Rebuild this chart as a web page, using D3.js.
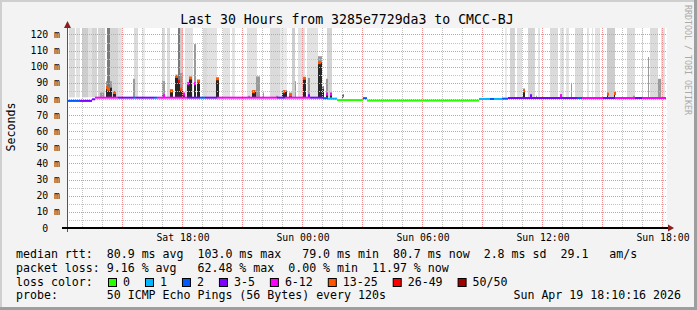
<!DOCTYPE html>
<html>
<head>
<meta charset="utf-8">
<script src="https://cdn.jsdelivr.net/npm/d3@7"></script>
<style>
  html, body { margin: 0; padding: 0; background: #f3f3f3; }
  svg { display: block; font-family: "DejaVu Sans Mono", monospace; }
  text { white-space: pre; }
</style>
</head>
<body>
<svg id="chart" width="697" height="310"></svg>
<script>
// smokeping: last 30 hours, 3285e7729da3 -> CMCC-BJ
// times are hours since Sat 18 Apr 2026 00:00

var lossLabels = ["0", "1", "2", "3-5", "6-12", "13-25", "26-49", "50/50"]
var lossColors = ["#26ff00", "#00b8ff", "#0059ff", "#7e00ff", "#ff00ff", "#ff5500", "#ff0000", "#a10000"]

var yTickValues = [0, 10, 20, 30, 40, 50, 60, 70, 80, 90, 100, 110, 120]

// median rtt runs: [from, to, ms, loss class]
var medianRuns = [
  [12.25, 12.30, 80.5, 4], [12.30, 12.90, 78.8, 2], [12.90, 13.50, 78.8, 3],
  [13.50, 13.65, 79.8, 3], [13.65, 14.80, 80.8, 4], [14.80, 15.55, 80.8, 3],
  [15.55, 15.70, 80.8, 2], [15.70, 16.60, 80.8, 3], [16.60, 16.75, 80.8, 2],
  [16.75, 18.25, 80.8, 4], [18.25, 18.90, 80.8, 3], [18.90, 19.15, 80.8, 2],
  [19.15, 19.75, 80.8, 3], [19.75, 22.75, 80.8, 4], [22.75, 23.15, 80.8, 3],
  [23.15, 24.40, 80.8, 4], [24.40, 25.05, 80.8, 3], [25.05, 25.30, 80.5, 2],
  [25.30, 25.75, 80.2, 1], [25.75, 27.05, 79.3, 0], [27.05, 27.25, 80.5, 2],
  [27.25, 32.85, 79.0, 0], [32.85, 33.40, 80.0, 1], [33.40, 33.60, 80.0, 2],
  [33.60, 34.00, 80.0, 1], [34.00, 34.30, 80.2, 2], [34.30, 37.75, 80.6, 3],
  [37.75, 38.00, 80.6, 2], [38.00, 39.05, 80.6, 4], [39.05, 39.65, 80.6, 3],
  [39.65, 40.65, 80.6, 4], [40.65, 41.00, 80.6, 3], [41.00, 42.20, 80.6, 4]
]

// smoke spikes: [from, to, max ms, median ms, loss class]
var spikes = [
  [13.90, 14.10, 84, 81, 4], [14.20, 14.50, 91, 87, 5], [14.25, 14.40, 124, 86, 5],
  [14.55, 14.70, 85, 84, 5], [15.55, 15.65, 92.5, 81, 3], [17.00, 17.15, 91, 82, 4],
  [17.40, 17.55, 86, 85, 5], [17.65, 17.80, 95, 94, 5], [17.80, 17.90, 124, 91, 6],
  [17.90, 18.05, 96, 86, 5], [18.05, 18.15, 84, 83, 4], [18.25, 18.35, 90, 89.5, 4],
  [18.35, 18.50, 93.5, 93, 5], [18.60, 18.70, 114, 89.5, 4], [18.75, 18.90, 92, 91, 5],
  [19.70, 19.85, 93, 92.5, 5], [21.30, 21.40, 82, 81, 3], [21.50, 21.70, 85.5, 84.5, 5],
  [21.70, 21.90, 94, 81, 4], [22.05, 22.10, 84, 81, 3], [22.70, 22.80, 82, 81, 4],
  [23.00, 23.25, 85.5, 84.5, 5], [23.35, 23.50, 84, 82.5, 5], [23.65, 23.70, 91, 81, 3],
  [24.05, 24.20, 93, 92.8, 5], [24.30, 24.40, 93, 82, 3], [24.80, 25.00, 106.5, 102.5, 5],
  [25.00, 25.10, 88, 87, 5], [25.20, 25.30, 92.5, 83, 4], [25.40, 25.50, 84, 83, 4],
  [26.00, 26.05, 83, 82, 4], [35.05, 35.15, 86.5, 85, 5], [35.40, 35.45, 82.5, 82, 3],
  [35.70, 35.75, 82, 81.5, 4], [36.90, 37.00, 83, 82, 4], [37.45, 37.50, 90, 81, 3],
  [39.25, 39.30, 84, 83, 5], [39.60, 39.65, 84, 83.4, 5], [40.55, 40.65, 82, 81.5, 4],
  [41.30, 41.35, 106, 81, 3], [41.80, 41.95, 92.5, 81, 3]
]

// light loss shading above the median: [from, to, density]
var lossBands = [
  [12.35, 12.65, 0.4], [12.70, 12.90, 0.3], [13.00, 13.30, 0.6], [13.30, 13.50, 0.3],
  [13.50, 13.75, 0.5], [13.80, 14.15, 0.5], [14.40, 14.80, 0.5], [14.80, 15.00, 0.3],
  [15.60, 15.80, 0.4], [16.00, 16.15, 0.2], [17.00, 17.15, 0.4], [17.25, 17.40, 0.4],
  [17.90, 18.05, 0.6], [18.15, 18.55, 0.3], [19.05, 19.25, 0.4], [19.25, 19.75, 0.3],
  [20.05, 20.40, 0.3], [20.50, 20.65, 0.3], [21.25, 21.75, 0.3], [22.40, 22.90, 0.4],
  [22.90, 23.25, 0.2], [23.50, 23.65, 0.6], [23.80, 24.15, 0.3], [24.25, 24.80, 0.3],
  [25.25, 25.50, 0.5], [34.15, 34.25, 0.2], [34.40, 34.65, 0.5], [34.75, 35.00, 0.3],
  [35.30, 35.65, 0.5], [35.80, 35.90, 0.3], [36.40, 36.80, 0.4], [36.90, 37.10, 0.3],
  [37.20, 37.35, 0.3], [37.65, 38.05, 0.4], [38.25, 38.35, 0.3], [38.50, 38.55, 0.3],
  [38.65, 38.90, 0.3], [39.25, 39.65, 0.6], [40.25, 40.65, 0.4], [41.00, 41.05, 0.3],
  [41.40, 41.80, 0.4], [41.95, 42.15, 0.3]
]

var rttLegend = ["median rtt:", "80.9 ms avg", "103.0 ms max", "79.0 ms min", "80.7 ms now", "2.8 ms sd", "29.1", "am/s"]
var lossLegend = ["packet loss:", "9.16 % avg", "62.48 % max", "0.00 % min", "11.97 % now"]
var probeText = "probe:       50 ICMP Echo Pings (56 Bytes) every 120s"
var stampText = "Sun Apr 19 18:10:16 2026"
var titleText = "Last 30 Hours from 3285e7729da3 to CMCC-BJ"

;(function() {
  var
    W = 697,
    H = 310,
    LEFT = 67,
    RIGHT = 667,
    TOP = 28,
    BOTTOM = 228,
    CW = 6.98,           // char advance of the legend font
    LX = 16,
    BASE = new Date(2026, 3, 18),
    RTT_COLS = [0, 13, 26, 41, 54, 67, 78, 85],
    LOSS_COLS = [0, 13, 26, 39, 51]

  function at(hr) { return new Date(+BASE + hr * 3600e3) }

  var svg = d3.select('#chart')

  // frame
  svg.append('rect').attr('width', W).attr('height', H).attr('fill', '#f3f3f3')
  svg.append('rect').attr('width', W).attr('height', 2).attr('fill', '#cfcfcf')
  svg.append('rect').attr('width', 2).attr('height', H).attr('fill', '#cfcfcf')
  svg.append('rect').attr('y', H - 3).attr('width', W).attr('height', 3).attr('fill', '#9e9e9e')
  svg.append('rect').attr('x', W - 3).attr('width', 3).attr('height', H).attr('fill', '#9e9e9e')

  var x = d3.scaleTime().domain([at(12.25), at(42.25)]).range([LEFT, RIGHT])
  var y = d3.scaleLinear().domain([0, 124]).range([BOTTOM, TOP])
  var shade = d3.scaleLinear().domain([0, 1]).range(['#f8f8f8', '#b0b0b0'])

  function xl(h) { return x(at(h)) }

  var plot = svg.append('g')
  plot.append('rect')
    .attr('x', LEFT).attr('y', TOP)
    .attr('width', RIGHT - LEFT).attr('height', BOTTOM - TOP)
    .attr('fill', '#fff')

  // loss shading
  plot.selectAll('.band').data(lossBands).enter().append('rect')
    .attr('class', 'band')
    .attr('x', d => xl(d[0]))
    .attr('width', d => xl(d[1]) - xl(d[0]))
    .attr('y', y(124))
    .attr('height', y(81) - y(124))
    .attr('fill', d => shade(d[2]))

  // smoke
  var sg = plot.selectAll('.spike').data(spikes).enter().append('g').attr('class', 'spike')
  sg.append('rect')
    .attr('x', d => xl(d[0]))
    .attr('width', d => Math.max(1, xl(d[1]) - xl(d[0])))
    .attr('y', d => y(d[2]))
    .attr('height', d => y(80.8) - y(d[2]))
    .attr('fill', d => d[2] >= 124 ? '#7a7a7a' : '#9a9a9a')
  sg.filter(d => d[3] > 81.8).append('rect')
    .attr('x', d => xl(d[0]))
    .attr('width', d => Math.max(1, xl(d[1]) - xl(d[0])))
    .attr('y', d => y(d[3]))
    .attr('height', d => y(80.8) - y(d[3]))
    .attr('fill', '#262626')

  // grid
  var grid = plot.append('g')
  grid.selectAll('.vg').data(x.ticks(d3.timeHour.every(1))).enter().append('line')
    .attr('x1', d => Math.round(x(d)) + .5).attr('x2', d => Math.round(x(d)) + .5)
    .attr('y1', TOP).attr('y2', BOTTOM)
    .attr('stroke', d => d.getHours() % 3 ? '#c2c2c2' : '#f09090')
    .attr('stroke-dasharray', '1,1')
  grid.selectAll('.hg').data(y.ticks(25).filter(v => v > 0)).enter().append('line')
    .attr('x1', LEFT).attr('x2', RIGHT)
    .attr('y1', d => Math.round(y(d)) + .5).attr('y2', d => Math.round(y(d)) + .5)
    .attr('stroke', d => d % 10 ? '#c2c2c2' : '#f09090')
    .attr('stroke-dasharray', '1,1')

  // median squares on the spikes
  sg.filter(d => d[3] > 81.8).append('rect')
    .attr('x', d => xl(d[0]))
    .attr('width', d => Math.max(2, Math.min(3, xl(d[1]) - xl(d[0]))))
    .attr('y', d => y(d[3]) - 1.5)
    .attr('height', 3)
    .attr('fill', d => lossColors[d[4]])

  // median rtt line
  plot.selectAll('.med').data(medianRuns).enter().append('rect')
    .attr('x', d => xl(d[0]))
    .attr('width', d => xl(d[1]) - xl(d[0]))
    .attr('y', d => y(d[2]) - 1)
    .attr('height', 2)
    .attr('fill', d => lossColors[d[3]])

  // axes
  svg.append('line')
    .attr('x1', LEFT + .5).attr('x2', LEFT + .5).attr('y1', TOP - 1).attr('y2', BOTTOM + 4)
    .attr('stroke', '#555')
  svg.append('line')
    .attr('x1', LEFT - 5).attr('x2', RIGHT + 2).attr('y1', BOTTOM).attr('y2', BOTTOM)
    .attr('stroke', '#000').attr('stroke-width', 2)
  svg.append('path')
    .attr('d', `M${LEFT + .5} ${TOP - 7}L${LEFT + 4} ${TOP}L${LEFT - 3} ${TOP}Z`)
    .attr('fill', '#8b1e1e')
  svg.append('path')
    .attr('d', `M${RIGHT + 7} ${BOTTOM}L${RIGHT + 1} ${BOTTOM - 3.5}L${RIGHT + 1} ${BOTTOM + 3.5}Z`)
    .attr('fill', '#8b1e1e')

  // tick labels
  svg.selectAll('.yl').data(yTickValues).enter().append('text')
    .attr('x', 60).attr('y', d => y(d) + 3.6)
    .attr('text-anchor', 'end')
    .attr('font-size', 9.8)
    .text(d => d ? d + ' m' : '0  ')

  var fmt = d3.timeFormat('%a %H:%M')
  svg.selectAll('.xl').data(x.ticks(d3.timeHour.every(6))).enter().append('text')
    .attr('x', d => x(d) + 1).attr('y', 241)
    .attr('text-anchor', 'middle')
    .attr('font-size', 9.8)
    .text(d => fmt(d))

  // titles
  svg.append('text')
    .attr('x', 347).attr('y', 24)
    .attr('text-anchor', 'middle')
    .attr('font-size', 13.2)
    .text(titleText)
  svg.append('text')
    .attr('transform', 'translate(15,127) rotate(-90)')
    .attr('text-anchor', 'middle')
    .attr('font-size', 11.6)
    .text('Seconds')
  svg.append('text')
    .attr('transform', 'translate(684.5,5) rotate(90)')
    .attr('font-size', 8.3)
    .attr('fill', '#aaa')
    .text('RRDTOOL / TOBI OETIKER')

  // legend
  var lg = svg.append('g').attr('font-size', 11.6)
  function row(parts, cols, i) {
    var t = lg.append('text').attr('y', 258 + i * 13.8)
    parts.forEach(function(p, j) {
      t.append('tspan').attr('x', LX + cols[j] * CW).text(p)
    })
  }
  row(rttLegend, RTT_COLS, 0)
  row(lossLegend, LOSS_COLS, 1)
  lg.append('text').attr('x', LX).attr('y', 258 + 2 * 13.8).text('loss color:')
  var sx = 108
  lossLabels.forEach(function(l, i) {
    lg.append('rect')
      .attr('x', sx + .5).attr('y', 278.5).attr('width', 8).attr('height', 8)
      .attr('fill', lossColors[i]).attr('stroke', '#000')
    lg.append('text').attr('x', sx + 15).attr('y', 258 + 2 * 13.8).text(l)
    sx += 15 + l.length * CW + 15
  })
  lg.append('text').attr('x', LX).attr('y', 258 + 3 * 13.8).text(probeText)
  lg.append('text').attr('x', 681).attr('y', 258 + 3 * 13.8).attr('text-anchor', 'end').text(stampText)
})()
</script>
</body>
</html>
